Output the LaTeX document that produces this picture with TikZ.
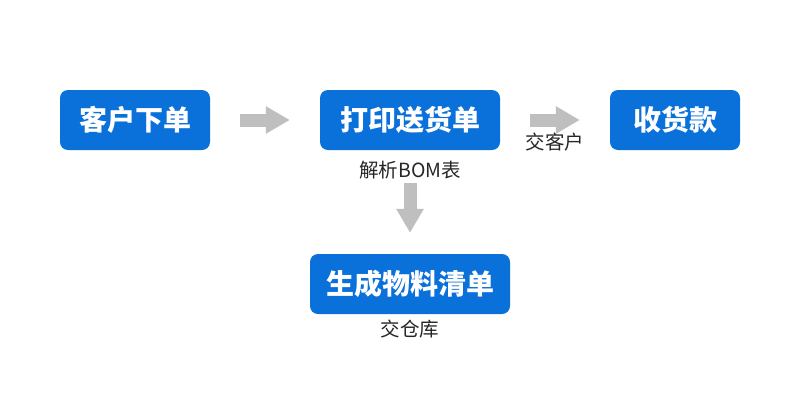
\documentclass[tikz,border=0pt]{standalone}
\usepackage{fontspec}
\setmainfont{Noto Sans CJK SC}
\usetikzlibrary{arrows.meta}
\definecolor{boxblue}{RGB}{10,112,218}
\definecolor{arrowgray}{RGB}{191,191,191}
\tikzset{
  stepbox/.style={fill=boxblue, rounded corners=8pt, text=white,
    font=\fontsize{28}{32}\selectfont\bfseries,
    minimum height=60pt, inner sep=0pt},
  flowarrow/.style={draw=arrowgray, line width=13pt,
    -{Triangle[length=24pt,width=26pt]}},
  note/.style={font=\fontsize{19.5}{22}\selectfont, text=black!85}
}
\begin{document}
\begin{tikzpicture}[x=1pt,y=-1pt]
  \useasboundingbox (0,0) rectangle (800,400);
  % boxes
  \node[stepbox, minimum width=150pt] (kehu) at (135,120) {客户下单};
  \node[stepbox, minimum width=180pt] (dayin) at (410,120) {打印送货单};
  \node[stepbox, minimum width=130pt] (shoukuan) at (675,120) {收货款};
  \node[stepbox, minimum width=200pt] (qingdan) at (410,284) {生成物料清单};
  % notes
  \node[note] (jiexi) at (410,170) {解析BOM表};
  \node[note] (cangku) at (410,329) {交仓库};
  % arrows
  \draw[flowarrow, shorten <=30pt, shorten >=30pt] (kehu) -- (dayin);
  \draw[flowarrow, shorten <=30pt, shorten >=30pt] (dayin) -- (shoukuan)
    node[note, midway, yshift=-22pt] (kehu2) {交客户};
  \draw[flowarrow, shorten <=33pt, shorten >=21pt] (dayin) -- (qingdan);
\end{tikzpicture}
\end{document}
